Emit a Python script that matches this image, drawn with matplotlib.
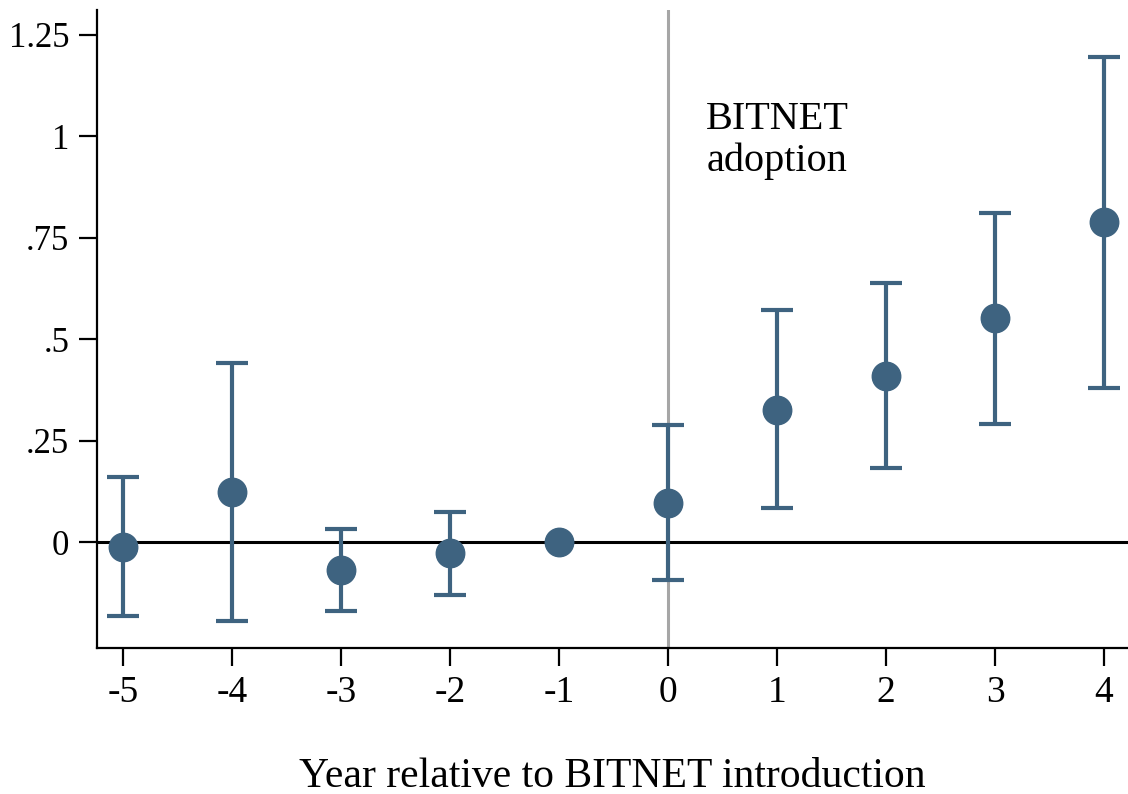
import numpy as np
import matplotlib
matplotlib.use("Agg")
import matplotlib.pyplot as plt

# Event-study coefficients
years = [-5, -4, -3, -2, -1, 0, 1, 2, 3, 4]
coef = [-0.012, 0.123, -0.069, -0.027, 0.0, 0.098, 0.327, 0.410, 0.553, 0.789]
ci_low = [-0.182, -0.194, -0.170, -0.130, 0.0, -0.093, 0.084, 0.184, 0.292, 0.381]
ci_high = [0.162, 0.442, 0.034, 0.074, 0.0, 0.290, 0.572, 0.639, 0.811, 1.194]

ytick_vals = [0, 0.25, 0.5, 0.75, 1, 1.25]
ytick_labels = ["0", ".25", ".5", ".75", "1", "1.25"]

plt.rcParams['font.family'] = ['Liberation Serif', 'DejaVu Serif']

color = '#3e6380'

fig = plt.figure(figsize=(11.28, 7.94), dpi=100)
ax = fig.add_axes([0.086, 0.184, 0.914, 0.803])

coef = np.array(coef)
yerr = np.vstack([coef - np.array(ci_low), np.array(ci_high) - coef])
has_ci = np.array(ci_high) > np.array(ci_low)

ax.axvline(0, color='#a6a6a6', lw=2.2, zorder=1)
ax.axhline(0, color='black', lw=2.2, zorder=2)

ax.errorbar(np.array(years)[has_ci], coef[has_ci], yerr=yerr[:, has_ci],
            fmt='none', ecolor=color, elinewidth=3, capsize=11.5,
            capthick=3, zorder=3)
ax.plot(years, coef, 'o', color=color, markersize=20.5, zorder=4)

ax.text(1.0, 0.99, "BITNET\nadoption", ha='center', va='center',
        fontsize=29, linespacing=1.15)

ax.set_xlim(-5.24, 4.22)
ax.set_ylim(-0.26, 1.31)
ax.set_xticks(years)
ax.set_xticklabels([str(y) for y in years])
ax.set_yticks(ytick_vals)
ax.set_yticklabels(ytick_labels)

ax.spines['top'].set_visible(False)
ax.spines['right'].set_visible(False)
ax.spines['left'].set_linewidth(1.6)
ax.spines['bottom'].set_linewidth(1.6)
ax.tick_params(axis='both', length=13, width=1.6, labelsize=27, pad=7)
ax.tick_params(axis='y', labelsize=25)

ax.set_xlabel("Year relative to BITNET introduction", fontsize=30, labelpad=34)

fig.savefig("out.png", dpi=100)
